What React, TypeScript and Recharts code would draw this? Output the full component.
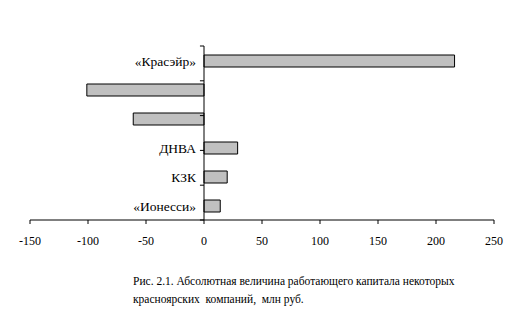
import { BarChart, Bar, XAxis, YAxis, ReferenceLine, LabelList } from "recharts";

const categories = ["«Красэйр»", "", "", "ДНВА", "КЗК", "«Ионесси»"];
const values = [216, -101, -61, 29, 20, 14]; // млн руб.
const xTicks = [-150, -100, -50, 0, 50, 100, 150, 200, 250];
const boundaries = [0, 1, 2, 3, 4, 5, 6];
const captionLines = [
  "Рис. 2.1. Абсолютная величина работающего капитала некоторых",
  "красноярских  компаний,  млн руб.",
];

const FONT = '"Liberation Serif", "Times New Roman", serif';

const data = categories.map((name, i) => ({ id: `c${i}`, name, value: values[i] }));

// category names sit left of the zero line, right-aligned
const renderLabel = (props: any) => {
  const { x, y, height, value } = props;
  if (!value) return null;
  return (
    <text
      x={Number(x) - 8}
      y={Number(y) + Number(height) / 2}
      textAnchor="end"
      dominantBaseline="central"
      fontSize={13.5}
      fontFamily={FONT}
      fill="#000"
    >
      {value}
    </text>
  );
};

export default function App() {
  return (
    <div style={{ position: "absolute", left: 0, top: 0, width: 530, height: 334, background: "#fff" }}>
      <BarChart
        width={530}
        height={260}
        data={data}
        layout="vertical"
        barCategoryGap={0}
        margin={{ top: 46, right: 36, left: 30, bottom: 10 }}
      >
        <XAxis
          type="number"
          domain={[-150, 250]}
          ticks={xTicks}
          interval={0}
          axisLine={{ stroke: "#000" }}
          tickLine={{ stroke: "#000" }}
          tickSize={4}
          tickMargin={12}
          height={30}
          tick={{ fontSize: 12, fontFamily: FONT, fill: "#000" }}
        />
        <YAxis yAxisId="cat" type="category" dataKey="id" hide />
        <YAxis yAxisId="num" type="number" domain={[0, 6]} hide />
        <ReferenceLine yAxisId="cat" x={0} stroke="#000" />
        {boundaries.map((k) => (
          <ReferenceLine
            key={k}
            yAxisId="num"
            segment={[
              { x: -3.5, y: k },
              { x: 0, y: k },
            ]}
            stroke="#000"
          />
        ))}
        <Bar
          yAxisId="cat"
          dataKey="value"
          barSize={12}
          fill="#c0c0c0"
          stroke="#000"
          strokeWidth={1}
          isAnimationActive={false}
        >
          <LabelList dataKey="name" content={renderLabel} />
        </Bar>
      </BarChart>
      <div
        style={{
          position: "absolute",
          left: 133,
          top: 272,
          fontFamily: FONT,
          fontSize: 11.5,
          lineHeight: "18px",
          whiteSpace: "pre",
          color: "#000",
        }}
      >
        {captionLines.map((line) => (
          <div key={line}>{line}</div>
        ))}
      </div>
    </div>
  );
}
